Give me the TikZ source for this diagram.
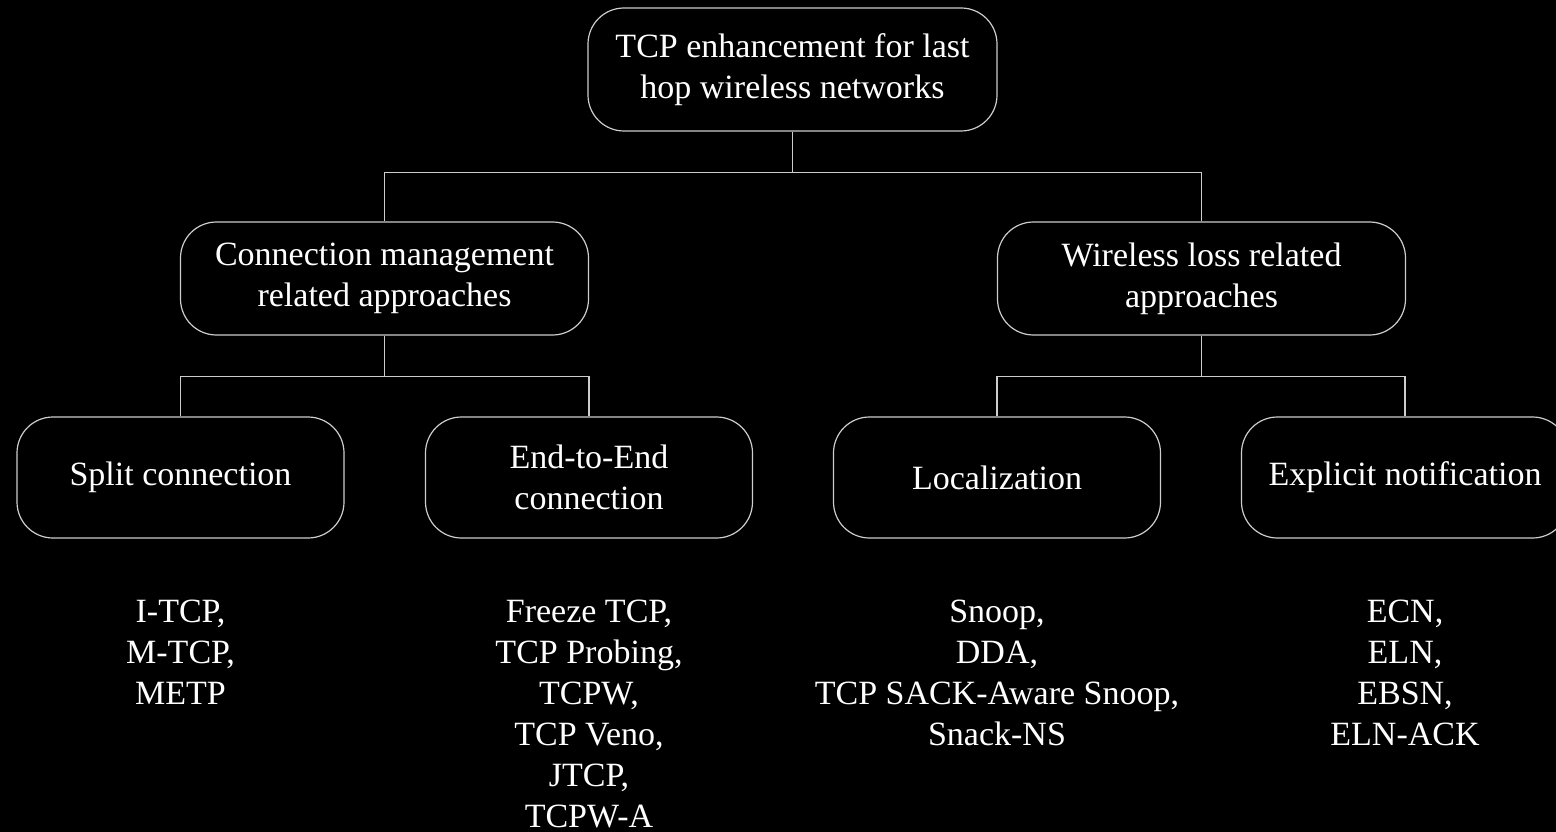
\documentclass[tikz,border=0pt]{standalone}
\usepackage{fontspec}
\setmainfont{Liberation Serif}
\usepackage{tikz}
\usetikzlibrary{positioning}

\definecolor{edgegray}{RGB}{205,205,205}

\begin{document}
\begin{tikzpicture}[x=1pt, y=-1pt,
    every node/.style={text=white, font=\fontsize{34}{41}\selectfont},
    box/.style={draw=edgegray, line width=1.2pt, rounded corners=36pt, align=center, inner sep=0pt},
    topbox/.style={box, minimum width=409pt, minimum height=123pt},
    midbox/.style={box, minimum width=408pt, minimum height=113pt},
    leafbox/.style={box, minimum width=327pt, minimum height=121pt},
    list/.style={align=center, anchor=north, inner sep=0pt},
    link/.style={draw=edgegray, line width=1.2pt}]
    % Page and background
    \fill[black] (0,0) rectangle (1556,832);
    \useasboundingbox (0,0) rectangle (1556,832);

    % Root
    \node[topbox] (root) at (792.5,69.5) {TCP enhancement for last\\hop wireless networks};

    % Second level
    \node[midbox] (conn) at (384.5,278.5) {Connection management\\related approaches};
    \node[midbox] (wless) at (1201.5,278.5) {Wireless loss related\\approaches};

    % Leaves
    \node[leafbox] (split) at (180.5,477.5) {Split connection};
    \node[leafbox] (etoe) at (589,477.5) {End-to-End\\connection};
    \node[leafbox] (local) at (997,477.5) {Localization};
    \node[leafbox] (expl) at (1405,477.5) {Explicit notification};

    % Protocol lists
    \node[list] (splitlist) at (180.5,600) {I-TCP,\\M-TCP,\\METP};
    \node[list] (etoelist) at (589,600) {Freeze TCP,\\TCP Probing,\\TCPW,\\TCP Veno,\\JTCP,\\TCPW-A};
    \node[list] (locallist) at (997,600) {Snoop,\\DDA,\\TCP SACK-Aware Snoop,\\Snack-NS};
    \node[list] (expllist) at (1405,600) {ECN,\\ELN,\\EBSN,\\ELN-ACK};

    % Tree connectors
    \draw[link] (root.south) -- ++(0,41) -| (conn.north);
    \draw[link] (root.south) -- ++(0,41) -| (wless.north);
    \draw[link] (conn.south) -- ++(0,41) -| (split.north);
    \draw[link] (conn.south) -- ++(0,41) -| (etoe.north);
    \draw[link] (wless.south) -- ++(0,41) -| (local.north);
    \draw[link] (wless.south) -- ++(0,41) -| (expl.north);
\end{tikzpicture}
\end{document}
